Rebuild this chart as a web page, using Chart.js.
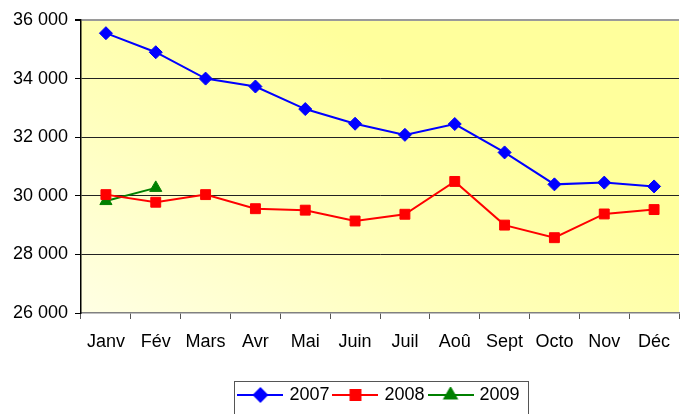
<!DOCTYPE html>
<html lang="fr">
<head>
    <meta charset="UTF-8">
    <title>2007 / 2008 / 2009</title>
    <script src="https://cdn.jsdelivr.net/npm/chart.js"></script>
    <style>
        html, body { margin: 0; padding: 0; background: #fff; }
        #wrap { width: 682px; height: 414px; }
    </style>
</head>
<body>
    <div id="wrap"><canvas id="chart" width="682" height="414"></canvas></div>

    <script>
        // Data
        const months = ['Janv', 'Fév', 'Mars', 'Avr', 'Mai', 'Juin', 'Juil', 'Aoû', 'Sept', 'Octo', 'Nov', 'Déc'];
        const values2007 = [35550, 34900, 34000, 33730, 32960, 32460, 32080, 32450, 31480, 30390, 30450, 30320];
        const values2008 = [30040, 29780, 30040, 29560, 29510, 29140, 29370, 30490, 29000, 28570, 29380, 29530];
        const values2009 = [29820, 30270];
        const yTicks = [26000, 28000, 30000, 32000, 34000, 36000];

        const fontFamily = '"Liberation Sans", Arial, sans-serif';

        // little line + marker pictures for the legend
        function legendIcon(color, style, radius) {
            const c = document.createElement('canvas');
            c.width = 46; c.height = 16;
            const g = c.getContext('2d');
            g.strokeStyle = color;
            g.lineWidth = 2;
            g.beginPath();
            g.moveTo(0, 8); g.lineTo(46, 8);
            g.stroke();
            Chart.helpers.drawPoint(g, { pointStyle: style, radius: radius, borderWidth: 1 }, 23, 8);
            g.fillStyle = color;
            g.fill();
            return c;
        }

        // yellow gradient behind the plot
        const plotBackground = {
            id: 'plotBackground',
            beforeDraw(chart) {
                const { ctx, chartArea: a } = chart;
                const w = a.right - a.left;
                const grad = ctx.createLinearGradient(a.left, a.bottom, a.left + w * 0.3, a.top - 30);
                grad.addColorStop(0, '#FFFFE4');
                grad.addColorStop(0.5, '#FFFFBC');
                grad.addColorStop(1, '#FFFF9C');
                ctx.save();
                ctx.fillStyle = grad;
                ctx.fillRect(a.left, a.top, w, a.bottom - a.top);
                ctx.restore();
            }
        };

        // legend centred under the plot, with a box round it
        const legendFrame = {
            id: 'legendFrame',
            beforeDraw(chart) {
                const lg = chart.legend;
                lg.left = chart.chartArea.left;
                lg.right = chart.chartArea.right;
                if (lg.adjustHitBoxes) lg.adjustHitBoxes();
            },
            afterDraw(chart) {
                const boxes = chart.legend.legendHitBoxes;
                if (!boxes || !boxes.length) return;
                const left = Math.min(...boxes.map(b => b.left)) - 6;
                const right = Math.max(...boxes.map(b => b.left + b.width)) + 9;
                const top = chart.legend.top + 1;
                const ctx = chart.ctx;
                ctx.save();
                ctx.strokeStyle = '#555';
                ctx.lineWidth = 1;
                ctx.strokeRect(Math.round(left) + 0.5, Math.round(top) + 0.5, Math.round(right - left), 40);
                ctx.restore();
            }
        };

        const ctx = document.getElementById('chart').getContext('2d');
        new Chart(ctx, {
            type: 'line',
            data: {
                labels: months,
                datasets: [
                    {
                        label: '2007',
                        data: values2007,
                        borderColor: '#0000FF',
                        backgroundColor: '#0000FF',
                        borderWidth: 2,
                        pointStyle: 'rectRot',
                        pointRadius: 6.5,
                        pointBorderWidth: 1,
                        tension: 0
                    },
                    {
                        label: '2008',
                        data: values2008,
                        borderColor: '#FF0000',
                        backgroundColor: '#FF0000',
                        borderWidth: 2,
                        pointStyle: 'rect',
                        pointRadius: 7,
                        pointBorderWidth: 1,
                        tension: 0
                    },
                    {
                        label: '2009',
                        data: values2009,
                        borderColor: '#008000',
                        backgroundColor: '#008000',
                        borderWidth: 2,
                        pointStyle: 'triangle',
                        pointRadius: 7,
                        pointBorderWidth: 1,
                        tension: 0
                    }
                ]
            },
            options: {
                responsive: false,
                animation: false,
                devicePixelRatio: 1,
                layout: { autoPadding: false, padding: { top: 20, right: 3, left: 0, bottom: 0 } },
                plugins: {
                    title: { display: false },
                    tooltip: { enabled: false },
                    legend: {
                        position: 'bottom',
                        labels: {
                            usePointStyle: true,
                            pointStyleWidth: 40,
                            boxHeight: 16,
                            padding: 6,
                            color: '#000',
                            font: { family: fontFamily, size: 18 },
                            generateLabels(chart) {
                                const shapes = [['#0000FF', 'rectRot', 6.5], ['#FF0000', 'rect', 7], ['#008000', 'triangle', 7]];
                                return chart.data.datasets.map((ds, i) => ({
                                    text: ds.label,
                                    pointStyle: legendIcon(shapes[i][0], shapes[i][1], shapes[i][2]),
                                    fillStyle: ds.backgroundColor,
                                    strokeStyle: ds.borderColor,
                                    lineWidth: 0,
                                    fontColor: '#000',
                                    datasetIndex: i,
                                    hidden: false
                                }));
                            }
                        }
                    }
                },
                scales: {
                    x: {
                        offset: true,
                        afterFit(scale) {
                            scale.height = 67;
                            scale.paddingLeft = 0;
                            scale.paddingRight = 0;
                        },
                        grid: {
                            offset: true,
                            drawOnChartArea: false,
                            drawTicks: true,
                            tickLength: 6,
                            tickColor: '#555'
                        },
                        border: { color: '#808080', width: 1.5 },
                        ticks: {
                            color: '#000',
                            padding: 12,
                            maxRotation: 0,
                            font: { family: fontFamily, size: 18 }
                        }
                    },
                    y: {
                        min: yTicks[0],
                        max: yTicks[yTicks.length - 1],
                        afterFit(scale) { scale.width = 81; },
                        afterBuildTicks(scale) { scale.ticks = yTicks.map(v => ({ value: v })); },
                        grid: {
                            color: ctx => ctx.tick && ctx.tick.value === 36000 ? '#9a9a9a' : (ctx.tick && ctx.tick.value === 26000 ? 'rgba(0,0,0,0)' : '#222'),
                            lineWidth: ctx => ctx.tick && ctx.tick.value === 36000 ? 2 : 1,
                            tickLength: 6,
                            tickColor: '#000'
                        },
                        border: { color: '#000', width: 1.5 },
                        ticks: {
                            color: '#000',
                            padding: 7,
                            font: { family: fontFamily, size: 18 },
                            callback: v => v.toLocaleString('fr-FR').replace(/\s/g, ' ')
                        }
                    }
                }
            },
            plugins: [plotBackground, legendFrame]
        });
    </script>
</body>
</html>
